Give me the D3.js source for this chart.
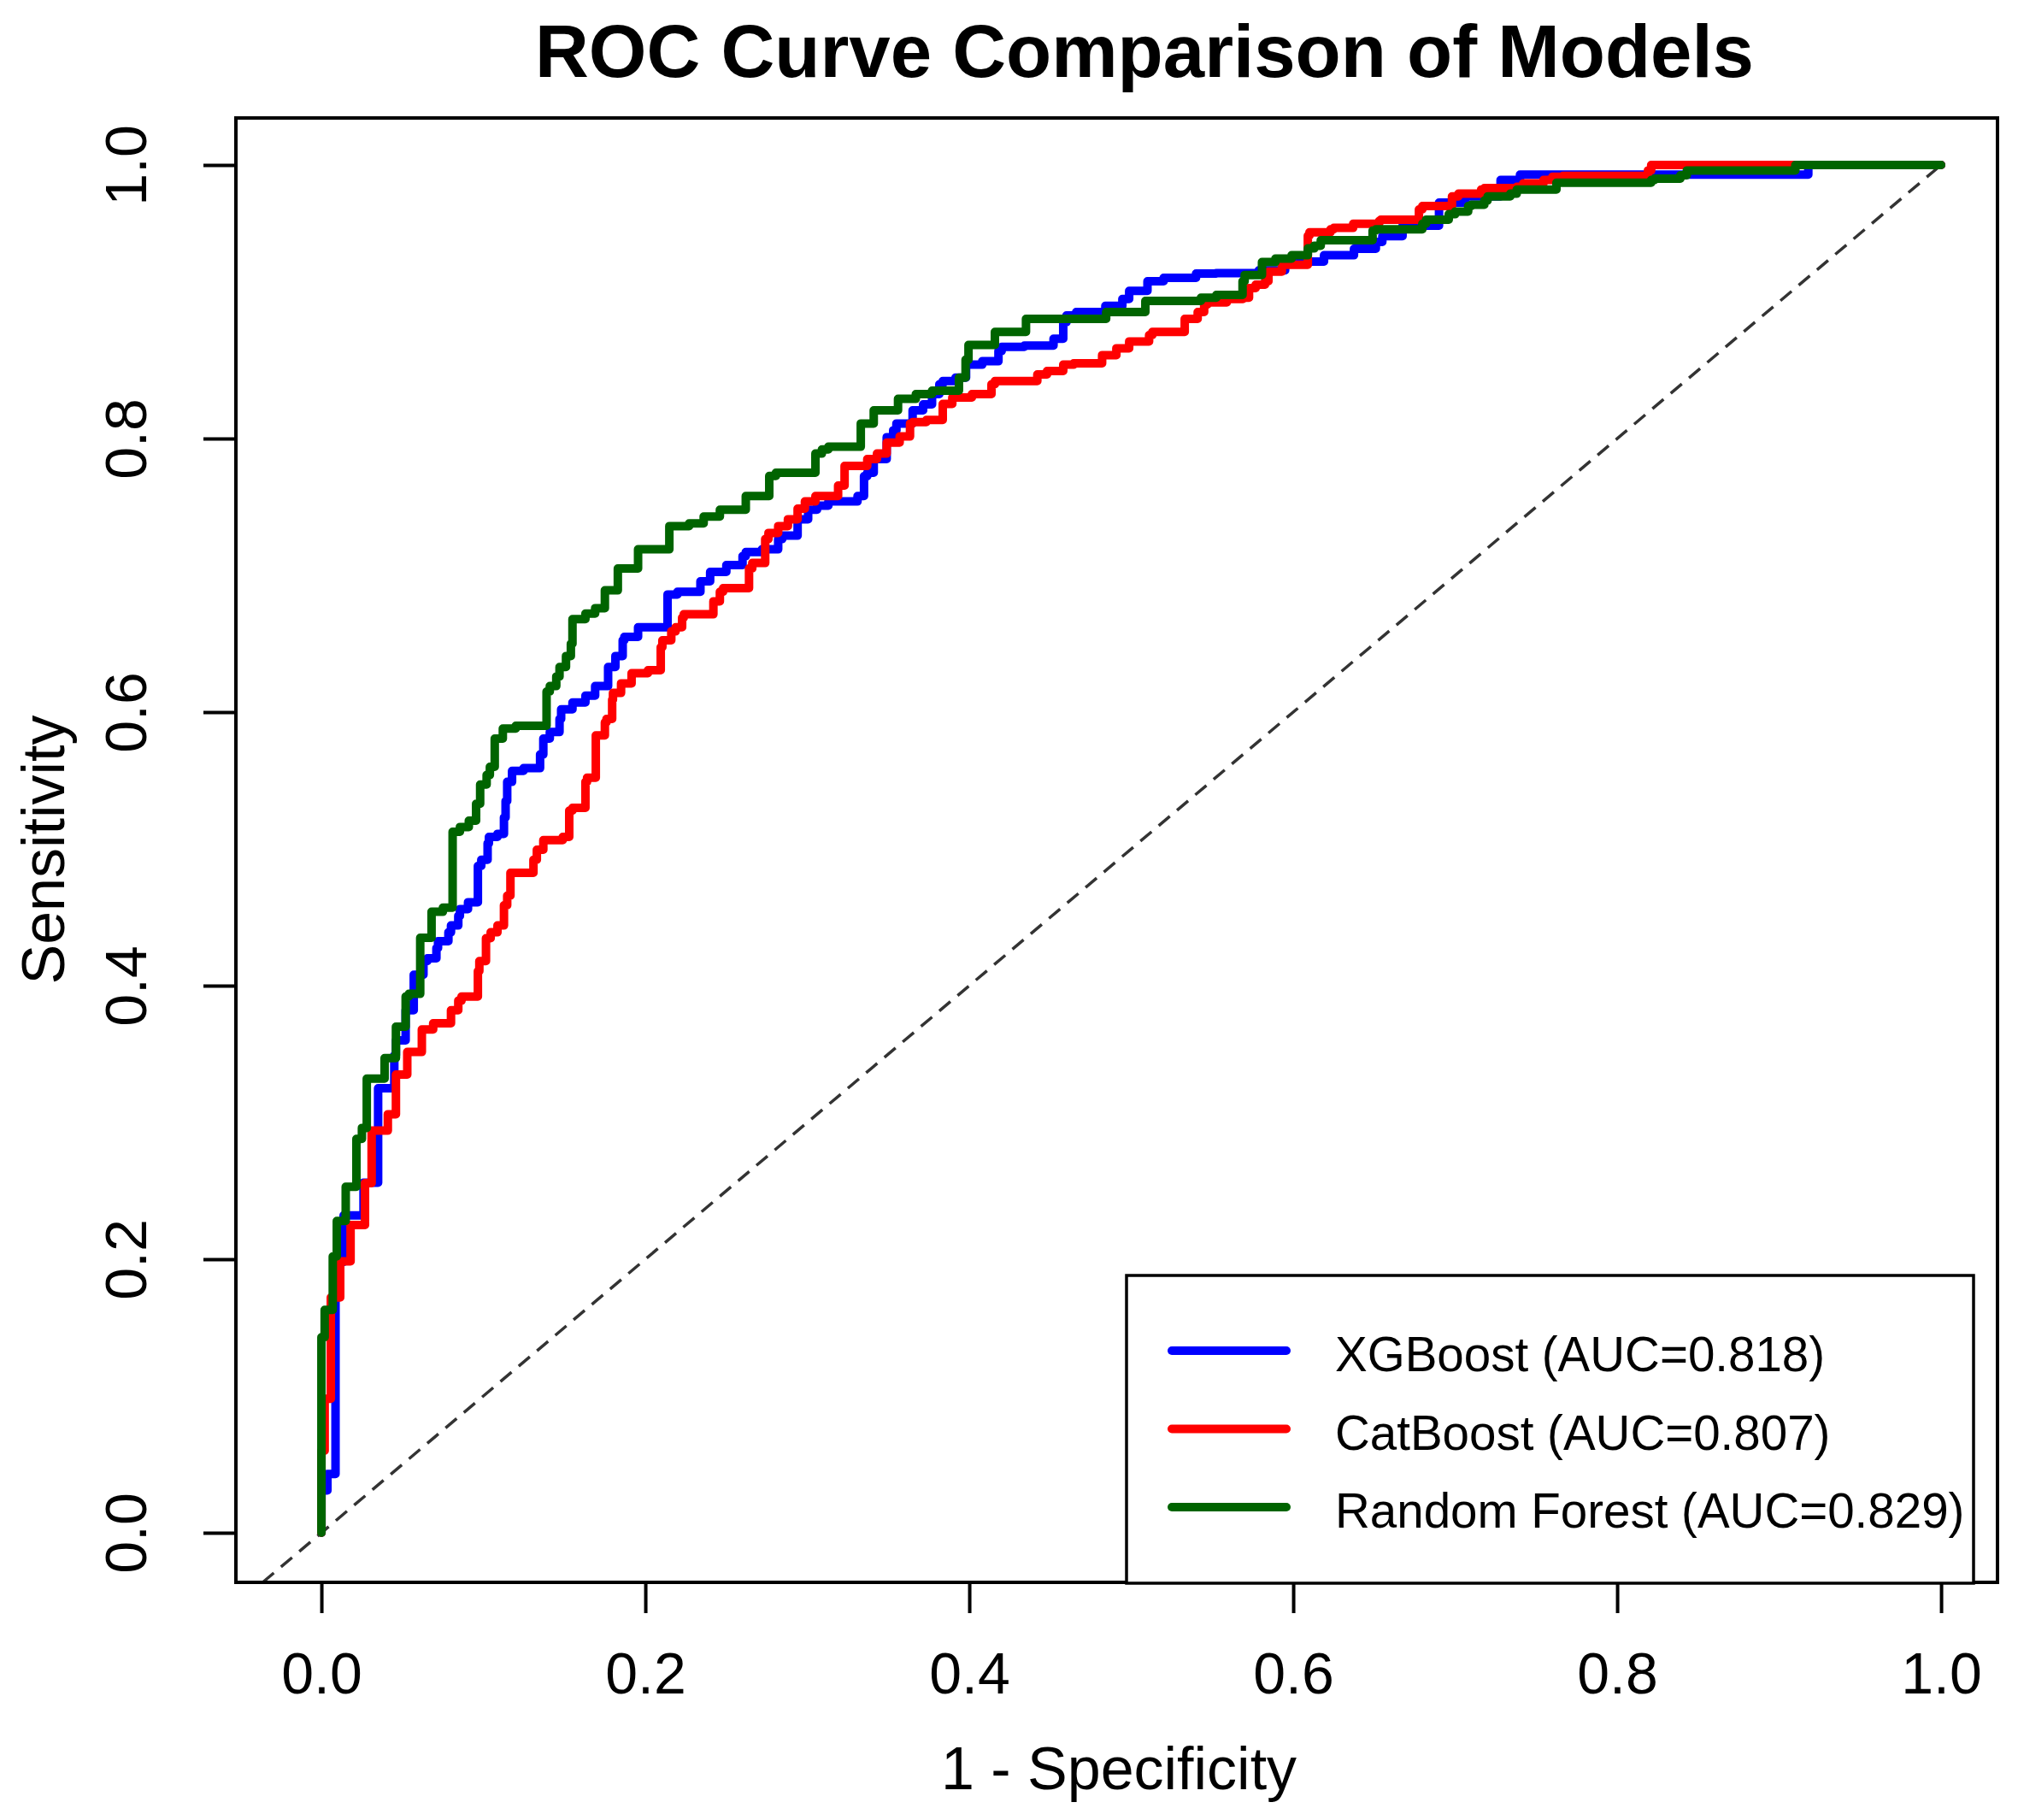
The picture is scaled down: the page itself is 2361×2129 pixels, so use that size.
<!doctype html>
<meta charset="utf-8">
<title>ROC Curve Comparison of Models</title>
<script src="https://cdn.jsdelivr.net/npm/d3@7"></script>
<style>
body {
  margin: 0;
  background: #fff;
}
svg text {
  font-family: "Liberation Sans", Arial, Helvetica, sans-serif;
  fill: #000;
}
</style>
<body>
<svg id="chart" width="2361" height="2129"></svg>
</body>
<script>
// ROC points: [1 - specificity, sensitivity]
var xgbRoc = [
  [0, 0], [0.0037, 0.031], [0.0087, 0.043], [0.0087, 0.081], [0.0137, 0.198],
  [0.026, 0.232], [0.035, 0.256], [0.035, 0.288], [0.045, 0.325], [0.046, 0.349],
  [0.052, 0.36], [0.057, 0.382], [0.057, 0.406], [0.063, 0.408], [0.0654, 0.418],
  [0.071, 0.42], [0.072, 0.4275], [0.0784, 0.4325], [0.080, 0.439], [0.0845, 0.444],
  [0.0855, 0.451], [0.0905, 0.456], [0.0966, 0.461], [0.0966, 0.48], [0.0987, 0.4875],
  [0.1026, 0.492], [0.1034, 0.504], [0.1087, 0.5087], [0.1127, 0.511], [0.1137, 0.523],
  [0.1147, 0.535], [0.1177, 0.549], [0.1248, 0.557], [0.135, 0.559], [0.137, 0.569],
  [0.141, 0.5806], [0.147, 0.5854], [0.148, 0.595], [0.155, 0.602], [0.163, 0.607],
  [0.169, 0.612], [0.177, 0.619], [0.1815, 0.633], [0.186, 0.641], [0.187, 0.6525],
  [0.1955, 0.655], [0.197, 0.662], [0.2137, 0.662], [0.2137, 0.681], [0.2198, 0.686],
  [0.234, 0.688], [0.240, 0.6956], [0.250, 0.7025], [0.260, 0.7075], [0.262, 0.714],
  [0.272, 0.717], [0.282, 0.719], [0.2845, 0.7265], [0.294, 0.729], [0.3005, 0.741],
  [0.306, 0.748], [0.313, 0.751], [0.331, 0.754], [0.335, 0.758], [0.337, 0.7725],
  [0.341, 0.775], [0.349, 0.785], [0.353, 0.801], [0.355, 0.806], [0.365, 0.811],
  [0.3715, 0.8206], [0.377, 0.825], [0.3815, 0.8325], [0.3836, 0.8397], [0.3915, 0.842],
  [0.398, 0.8445], [0.408, 0.854], [0.418, 0.8565], [0.420, 0.864], [0.434, 0.867],
  [0.452, 0.868], [0.458, 0.873], [0.460, 0.885], [0.466, 0.89], [0.484, 0.8925],
  [0.4945, 0.897], [0.4987, 0.902], [0.51, 0.908], [0.52, 0.915], [0.540, 0.9175],
  [0.5525, 0.9206], [0.5787, 0.921], [0.595, 0.923], [0.619, 0.9294], [0.6375, 0.934],
  [0.651, 0.9387], [0.655, 0.9437], [0.6675, 0.948], [0.69, 0.9556], [0.706, 0.9725],
  [0.728, 0.977], [0.740, 0.989], [0.7546, 0.993], [0.918, 0.993], [1, 1]
];

var catRoc = [
  [0, 0], [0.002, 0.06], [0.0058, 0.098], [0.0116, 0.172], [0.018, 0.1984],
  [0.0269, 0.225], [0.031, 0.2557], [0.041, 0.294], [0.046, 0.306], [0.053, 0.335],
  [0.062, 0.3515], [0.069, 0.368], [0.080, 0.3725], [0.0845, 0.382], [0.0865, 0.389],
  [0.0966, 0.392], [0.0975, 0.4106], [0.1016, 0.418], [0.1045, 0.4347], [0.1087, 0.439],
  [0.1127, 0.444], [0.1147, 0.4587], [0.1167, 0.4658], [0.1197, 0.4825], [0.1309, 0.4825],
  [0.133, 0.492], [0.137, 0.4994], [0.149, 0.5064], [0.153, 0.5087], [0.155, 0.528],
  [0.163, 0.530], [0.164, 0.549], [0.1694, 0.552], [0.1694, 0.5806], [0.175, 0.583],
  [0.176, 0.5925], [0.1795, 0.595], [0.180, 0.609], [0.185, 0.614], [0.1915, 0.621],
  [0.2016, 0.6284], [0.2095, 0.6306], [0.2105, 0.6475], [0.216, 0.6525], [0.2187, 0.659],
  [0.2227, 0.662], [0.2237, 0.669], [0.242, 0.6715], [0.246, 0.681], [0.248, 0.688],
  [0.264, 0.6906], [0.266, 0.705], [0.274, 0.709], [0.276, 0.7265], [0.282, 0.731],
  [0.288, 0.736], [0.294, 0.741], [0.2985, 0.7487], [0.305, 0.754], [0.319, 0.758],
  [0.323, 0.7656], [0.324, 0.78], [0.337, 0.78], [0.343, 0.785], [0.349, 0.789],
  [0.357, 0.797], [0.3634, 0.8015], [0.365, 0.811], [0.3735, 0.812], [0.3836, 0.8136],
  [0.3836, 0.8206], [0.3895, 0.8253], [0.4016, 0.83], [0.4137, 0.8325], [0.4158, 0.8397],
  [0.442, 0.842], [0.448, 0.8469], [0.458, 0.8494], [0.4644, 0.854], [0.482, 0.855],
  [0.4908, 0.861], [0.4987, 0.866], [0.511, 0.871], [0.513, 0.8756], [0.533, 0.878],
  [0.541, 0.8875], [0.545, 0.8925], [0.547, 0.898], [0.559, 0.8995], [0.569, 0.902],
  [0.5727, 0.903], [0.5768, 0.91], [0.5826, 0.9125], [0.5847, 0.915], [0.593, 0.922],
  [0.609, 0.927], [0.610, 0.9483], [0.623, 0.9508], [0.625, 0.953], [0.637, 0.954],
  [0.653, 0.957], [0.654, 0.959], [0.6776, 0.960], [0.6797, 0.9675], [0.698, 0.970],
  [0.702, 0.977], [0.716, 0.979], [0.718, 0.982], [0.738, 0.9831], [0.742, 0.984],
  [0.7545, 0.9866], [0.760, 0.989], [0.7665, 0.9914], [0.819, 0.992], [0.821, 0.996],
  [0.87, 1], [1, 1]
];

var rfRoc = [
  [0, 0], [0, 0.05], [0.002, 0.143], [0.007, 0.163], [0.0095, 0.202],
  [0.015, 0.228], [0.0216, 0.253], [0.025, 0.288], [0.028, 0.296], [0.039, 0.332],
  [0.046, 0.347], [0.052, 0.37], [0.054, 0.392], [0.061, 0.394], [0.068, 0.435],
  [0.075, 0.454], [0.081, 0.457], [0.0855, 0.5125], [0.091, 0.516], [0.0955, 0.5206],
  [0.098, 0.533], [0.102, 0.547], [0.104, 0.554], [0.107, 0.56], [0.112, 0.5806],
  [0.12, 0.588], [0.139, 0.59], [0.141, 0.615], [0.145, 0.619], [0.147, 0.626],
  [0.151, 0.633], [0.154, 0.641], [0.155, 0.65], [0.163, 0.668], [0.169, 0.672],
  [0.175, 0.676], [0.183, 0.689], [0.1955, 0.705], [0.2148, 0.719], [0.227, 0.736],
  [0.236, 0.738], [0.246, 0.743], [0.262, 0.748], [0.2765, 0.758], [0.2806, 0.7727],
  [0.305, 0.775], [0.309, 0.789], [0.313, 0.792], [0.333, 0.794], [0.341, 0.811],
  [0.356, 0.8206], [0.367, 0.829], [0.377, 0.8325], [0.3936, 0.835], [0.3977, 0.8445],
  [0.3995, 0.8576], [0.4158, 0.8684], [0.435, 0.878], [0.4845, 0.8875], [0.5087, 0.8925],
  [0.543, 0.9006], [0.5525, 0.903], [0.5687, 0.905], [0.570, 0.915], [0.5807, 0.9196],
  [0.589, 0.929], [0.599, 0.9316], [0.609, 0.934], [0.613, 0.939], [0.617, 0.941],
  [0.649, 0.945], [0.651, 0.952], [0.6797, 0.953], [0.682, 0.957], [0.696, 0.96],
  [0.700, 0.964], [0.708, 0.966], [0.710, 0.970], [0.718, 0.971], [0.720, 0.974],
  [0.734, 0.977], [0.738, 0.979], [0.7625, 0.982], [0.765, 0.987], [0.821, 0.987],
  [0.823, 0.989], [0.839, 0.990], [0.843, 0.9925], [0.91, 0.996], [1, 1]
];

var modelNames = ["XGBoost", "CatBoost", "Random Forest"];
var modelAuc = [0.818, 0.807, 0.829];
var modelColors = ["#0000ff", "#ff0000", "#006400"];
var xTicks = [0, 0.2, 0.4, 0.6, 0.8, 1.0];
var yTicks = [0, 0.2, 0.4, 0.6, 0.8, 1.0];

var svg = d3.select("#chart");
var W = 2361, H = 2129;

svg.append("rect").attr("width", W).attr("height", H).attr("fill", "#fff");

// plot region (R style: padding beyond data range)
var plotL = 276, plotR = 2337, plotT = 138, plotB = 1851;
var x = d3.scaleLinear().domain([-0.0528, 1.0348]).range([plotL, plotR]);
var y = d3.scaleLinear().domain([-0.03625, 1.034375]).range([plotB, plotT]);

// diagonal reference line
var yMin = y.domain()[0];
svg.append("line")
  .attr("x1", x(yMin)).attr("y1", y(yMin))
  .attr("x2", x(1)).attr("y2", y(1))
  .attr("stroke", "#333")
  .attr("stroke-width", 3.5)
  .attr("stroke-dasharray", "17,11");

// curves: blue first, green ends on top
var line = d3.line()
  .x(function(d) { return x(d[0]); })
  .y(function(d) { return y(d[1]); })
  .curve(d3.curveStepBefore);

[xgbRoc, catRoc, rfRoc].forEach(function(pts, i) {
  svg.append("path")
    .datum(pts)
    .attr("d", line)
    .attr("fill", "none")
    .attr("stroke", modelColors[i])
    .attr("stroke-width", 10)
    .attr("stroke-linejoin", "round")
    .attr("stroke-linecap", "round");
});

// axes
var xAxis = svg.append("g")
  .attr("transform", "translate(0," + plotB + ")")
  .call(d3.axisBottom(x).tickValues(xTicks).tickSize(36).tickFormat(d3.format(".1f")));
xAxis.select(".domain").remove();
xAxis.selectAll(".tick line").attr("stroke", "#000").attr("stroke-width", 4);
xAxis.selectAll(".tick text")
  .attr("y", 130).attr("dy", 0)
  .style("font-size", "68px");

var yAxis = svg.append("g")
  .attr("transform", "translate(" + plotL + ",0)")
  .call(d3.axisLeft(y).tickValues(yTicks).tickSize(38).tickFormat(d3.format(".1f")));
yAxis.select(".domain").remove();
yAxis.selectAll(".tick line").attr("stroke", "#000").attr("stroke-width", 4);
yAxis.selectAll(".tick text")
  .attr("x", 0).attr("y", 0).attr("dy", 0)
  .attr("text-anchor", "middle")
  .attr("transform", "translate(-105,0) rotate(-90)")
  .style("font-size", "68px");

// plot box
svg.append("rect")
  .attr("x", plotL).attr("y", plotT)
  .attr("width", plotR - plotL).attr("height", plotB - plotT)
  .attr("fill", "none")
  .attr("stroke", "#000")
  .attr("stroke-width", 4);

// titles
svg.append("text")
  .attr("x", 1339).attr("y", 90)
  .attr("text-anchor", "middle")
  .style("font-size", "87px")
  .style("font-weight", "bold")
  .text("ROC Curve Comparison of Models");

svg.append("text")
  .attr("x", 1309).attr("y", 2093)
  .attr("text-anchor", "middle")
  .style("font-size", "70px")
  .text("1 - Specificity");

svg.append("text")
  .attr("transform", "translate(75,994) rotate(-90)")
  .attr("text-anchor", "middle")
  .style("font-size", "70px")
  .text("Sensitivity");

// legend
var legend = svg.append("g");
legend.append("rect")
  .attr("x", 1318).attr("y", 1492)
  .attr("width", 991).attr("height", 360)
  .attr("fill", "#fff")
  .attr("stroke", "#000")
  .attr("stroke-width", 3.5);

modelNames.forEach(function(name, i) {
  var cy = 1580 + i * 91.5;
  legend.append("line")
    .attr("x1", 1371).attr("x2", 1505)
    .attr("y1", cy).attr("y2", cy)
    .attr("stroke", modelColors[i])
    .attr("stroke-width", 10)
    .attr("stroke-linecap", "round");
  legend.append("text")
    .attr("x", 1562).attr("y", cy + 24)
    .style("font-size", "56.5px")
    .text(name + " (AUC=" + modelAuc[i].toFixed(3) + ")");
});
</script>
